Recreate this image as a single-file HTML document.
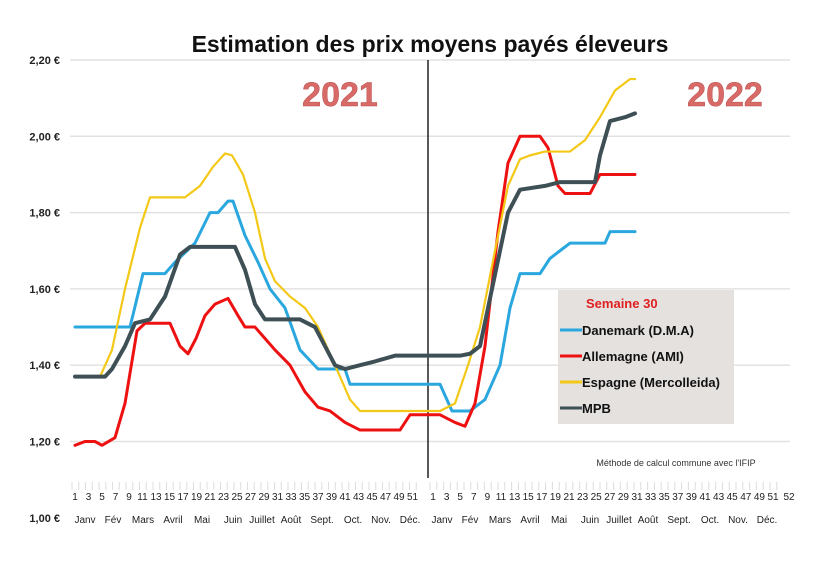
<!DOCTYPE html>
<html><head><meta charset="utf-8"><style>
body{margin:0;background:#fff;}
svg text{font-family:"Liberation Sans",sans-serif;}
</style></head><body>
<svg id="s" width="820" height="558" xmlns="http://www.w3.org/2000/svg">
<rect width="820" height="558" fill="#fff"/>
<text x="430" y="52" text-anchor="middle" font-size="23" font-weight="bold" fill="#111">Estimation des prix moyens payés éleveurs</text>
<g id="grid" stroke="#e2e2e2" stroke-width="1.5"></g>
<g id="ylab" font-size="11" font-weight="bold" fill="#222" text-anchor="end"></g>
<line x1="428" y1="60" x2="428" y2="478" stroke="#222" stroke-width="1.5"/>
<text x="340" y="106" text-anchor="middle" font-size="34" font-weight="bold" fill="#d86a68" stroke="#b8504e" stroke-width="0.5">2021</text>
<text x="725" y="106" text-anchor="middle" font-size="34" font-weight="bold" fill="#d86a68" stroke="#b8504e" stroke-width="0.5">2022</text>
<g id="ticks" stroke="#ddd" stroke-width="1"></g>
<g id="wk" font-size="10" fill="#222" text-anchor="middle"></g>
<g id="mo" font-size="10" fill="#222" text-anchor="middle"></g>
<g id="series" fill="none" stroke-linejoin="round" stroke-linecap="round"></g>
<rect x="558" y="290" width="176" height="134" fill="#e4e1df"/>
<text x="586" y="308" font-size="13" font-weight="bold" fill="#e02020">Semaine 30</text>
<line x1="560" y1="330" x2="582" y2="330" stroke="#2aa7de" stroke-width="3"/>
<text x="582" y="335" font-size="13" font-weight="bold" fill="#111">Danemark (D.M.A)</text>
<line x1="560" y1="356" x2="582" y2="356" stroke="#e11" stroke-width="3"/>
<text x="582" y="361" font-size="13" font-weight="bold" fill="#111">Allemagne (AMI)</text>
<line x1="560" y1="382" x2="582" y2="382" stroke="#f3c816" stroke-width="3"/>
<text x="582" y="387" font-size="13" font-weight="bold" fill="#111">Espagne (Mercolleida)</text>
<line x1="560" y1="408" x2="582" y2="408" stroke="#3e5055" stroke-width="3"/>
<text x="582" y="413" font-size="13" font-weight="bold" fill="#111">MPB</text>
<text x="676" y="466" text-anchor="middle" font-size="9" fill="#333">Méthode de calcul commune avec l'IFIP</text>
</svg>
<script>
const NS="http://www.w3.org/2000/svg";
function el(p,t,a,txt){const e=document.createElementNS(NS,t);for(const k in a)e.setAttribute(k,a[k]);if(txt!==undefined)e.textContent=txt;document.getElementById(p).appendChild(e);}
const Y=v=>60+(2.2-v)*381.5;
["2,20 €","2,00 €","1,80 €","1,60 €","1,40 €","1,20 €","1,00 €"].forEach((l,i)=>{const v=2.2-i*0.2,y=Y(v);
 if(i<6)el("grid","line",{x1:70,y1:y,x2:790,y2:y});
 el("ylab","text",{x:60,y:y+4},l);});
for(let w=0;w<104;w++){const x=w<52?75+w*6.75:433+(w-52)*6.8;el("ticks","line",{x1:x-3,y1:482,x2:x-3,y2:490});
 if(w%2==0)el("wk","text",{x:x,y:500},String(w%52+1));}
el("wk","text",{x:789,y:500},"52");
const M=["Janv","Fév","Mars","Avril","Mai","Juin","Juillet","Août","Sept.","Oct.","Nov.","Déc."];
const mx=[85,113,143,173,202,233,262,291,322,353,381,410];
mx.forEach((x,i)=>{el("mo","text",{x:x,y:523},M[i]);el("mo","text",{x:x+357,y:523},M[i]);});
function S(pts,c,w){el("series","polyline",{points:pts.map(p=>p[0]+","+Y(p[1])).join(" "),stroke:c,"stroke-width":w});}
S([[75,1.50],[130,1.50],[143,1.64],[165,1.64],[175,1.67],[195,1.72],[210,1.80],[218,1.80],[228,1.83],[233,1.83],[245,1.74],[258,1.67],[270,1.60],[285,1.55],[300,1.44],[318,1.39],[345,1.39],[350,1.35],[440,1.35],[452,1.28],[470,1.28],[485,1.31],[500,1.40],[510,1.55],[520,1.64],[540,1.64],[550,1.68],[560,1.70],[570,1.72],[605,1.72],[610,1.75],[635,1.75]],"#2aa7de",3);
S([[75,1.19],[85,1.20],[95,1.20],[102,1.19],[115,1.21],[125,1.30],[137,1.49],[145,1.51],[170,1.51],[180,1.45],[188,1.43],[196,1.47],[205,1.53],[215,1.56],[228,1.575],[238,1.53],[245,1.50],[255,1.50],[265,1.47],[275,1.44],[290,1.40],[305,1.33],[318,1.29],[330,1.28],[345,1.25],[360,1.23],[400,1.23],[410,1.27],[440,1.27],[455,1.25],[465,1.24],[475,1.30],[485,1.45],[498,1.75],[508,1.93],[520,2.00],[540,2.00],[548,1.97],[558,1.87],[565,1.85],[590,1.85],[600,1.90],[635,1.90]],"#e11",3);
S([[75,1.37],[100,1.37],[112,1.44],[125,1.60],[140,1.76],[150,1.84],[185,1.84],[200,1.87],[213,1.92],[225,1.955],[232,1.95],[243,1.90],[255,1.80],[265,1.68],[275,1.62],[290,1.58],[305,1.55],[318,1.50],[335,1.40],[350,1.31],[360,1.28],[440,1.28],[455,1.30],[468,1.40],[480,1.50],[495,1.70],[508,1.87],[520,1.94],[530,1.95],[545,1.96],[570,1.96],[585,1.99],[600,2.05],[615,2.12],[630,2.15],[635,2.15]],"#f3c816",2.2);
S([[75,1.37],[105,1.37],[112,1.39],[125,1.45],[135,1.51],[150,1.52],[165,1.58],[180,1.69],[190,1.71],[235,1.71],[245,1.65],[255,1.56],[265,1.52],[300,1.52],[315,1.50],[325,1.45],[335,1.40],[345,1.39],[360,1.40],[375,1.41],[395,1.425],[460,1.425],[470,1.43],[480,1.45],[492,1.60],[508,1.80],[520,1.86],[545,1.87],[560,1.88],[595,1.88],[600,1.95],[610,2.04],[625,2.05],[635,2.06]],"#3e5055",4);
</script>
</body></html>
